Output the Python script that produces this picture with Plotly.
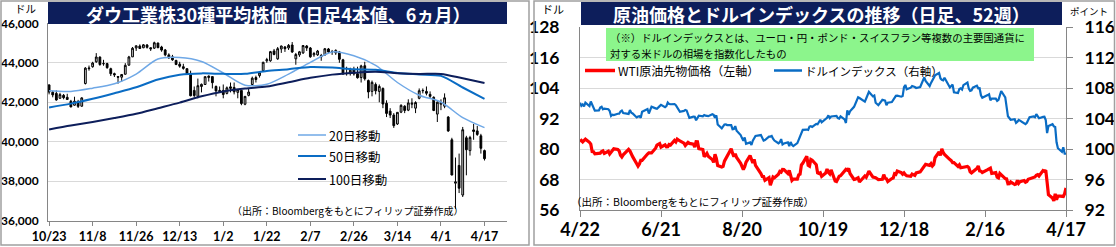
import plotly.graph_objects as go

W, H = 1116, 247
def px(x): return x / W
def py(y): return 1 - y / H

# ---------------- Left panel data (Dow Jones daily OHLC) ----------------
DOW_DATES = ["10/23","10/24","10/25","10/28","10/29","10/30","10/31","11/1","11/4","11/5","11/6","11/7","11/8",
    "11/11","11/12","11/13","11/14","11/15","11/18","11/19","11/20","11/21","11/22","11/25","11/26","11/27","11/29",
    "12/2","12/3","12/4","12/5","12/6","12/9","12/10","12/11","12/12","12/13","12/16","12/17","12/18","12/19","12/20",
    "12/23","12/24","12/26","12/27","12/30","12/31","1/2","1/3","1/6","1/7","1/8","1/10","1/13","1/14","1/15","1/16",
    "1/17","1/21","1/22","1/23","1/24","1/27","1/28","1/29","1/30","1/31","2/3","2/4","2/5","2/6","2/7","2/10","2/11",
    "2/12","2/13","2/14","2/18","2/19","2/20","2/21","2/24","2/25","2/26","2/27","2/28","3/3","3/4","3/5","3/6","3/7",
    "3/10","3/11","3/12","3/13","3/14","3/17","3/18","3/19","3/20","3/21","3/24","3/25","3/26","3/27","3/28","3/31",
    "4/1","4/2","4/3","4/4","4/7","4/8","4/9","4/10","4/11","4/14","4/15","4/16","4/17"]
DOW_OPEN = [42880,42510,42450,42200,42350,42250,42050,41850,42040,41800,42950,43700,43800,
    44050,44290,43950,43960,43700,43450,43300,43270,43420,43880,44300,44750,44850,44760,
    44900,44760,44740,45000,44800,44650,44400,44300,44120,43930,43800,43700,43450,42600,42300,
    42800,42900,43250,43300,42800,42600,42600,42450,42780,42750,42500,42600,41900,42350,42900,43250,
    43350,43600,44100,44100,44600,44200,44700,44800,44750,44900,44200,44400,44500,44850,44750,44400,44400,
    44300,44400,44700,44550,44500,44550,44150,43450,43450,43650,43450,43250,43850,43100,42550,42900,42550,
    42700,41950,41550,41350,40900,41500,41800,41600,41900,41700,42200,42600,42550,42400,42250,41400,
    41900,41800,41250,40100,37900,38800,37300,40200,39550,40600,40550,40300,39550]
DOW_HIGH = [42900,42580,42600,42480,42420,42430,42120,42280,42120,42250,43780,43860,44050,
    44490,44320,44150,44000,43750,43500,43330,43420,43980,44350,44800,44880,44930,44950,
    44950,44780,45070,45020,44860,44700,44480,44400,44150,44050,43950,43720,43600,42800,43200,
    42950,43300,43360,43300,42850,42800,42900,42800,43000,43000,42650,42600,42320,42700,43300,43350,
    43550,44050,44250,44600,44700,44800,44870,44850,44950,45050,44500,44600,44900,44900,44800,44550,44650,
    44450,44750,44750,44650,44680,44600,44200,43800,43750,43800,43800,43900,44050,43150,43100,43000,42900,
    42750,42100,41700,41450,41500,41900,41850,42150,42200,42050,42700,42700,42800,42550,42300,42050,
    42150,42450,41300,40200,39200,39400,40750,40300,40300,40900,40800,40400,39600]
DOW_LOW = [42400,42250,42080,42180,42150,42120,41750,41830,41710,41780,42900,43600,43750,
    44000,43850,43850,43700,43330,43280,42940,43040,43400,43850,44290,44600,44700,44740,
    44720,44600,44700,44740,44560,44330,44200,44100,43880,43750,43650,43380,42300,42250,42200,
    42500,42880,43050,42700,42300,42480,42200,42400,42500,42400,42200,41850,41850,42300,42850,43000,
    43250,43550,44000,44050,44380,44150,44500,44550,44650,44500,43900,44300,44450,44600,44250,44300,44350,
    44100,44350,44500,44400,44400,44000,43400,43350,43350,43350,43200,43000,43100,42200,42300,42400,42000,
    41700,41250,41200,40700,40850,41450,41450,41550,41700,41450,42150,42450,42350,42200,41550,41000,
    41600,41700,40500,38300,36600,37400,37200,38300,39300,40100,40300,39400,39050]
DOW_CLOSE = [42514,42374,42114,42387,42233,42141,41763,42052,41794,42222,43729,43729,43988,
    44293,43910,43958,43751,43445,43390,43269,43408,43870,44296,44736,44860,44722,44911,
    44782,44705,45014,44765,44643,44401,44248,44149,43914,43828,43717,43450,42327,42342,42840,
    42907,43297,43325,42992,42574,42544,42392,42732,42706,42528,42635,41938,42297,42518,43221,43153,
    43488,44025,44157,44565,44424,44714,44850,44713,44882,44545,44422,44556,44873,44747,44303,44470,44594,
    44368,44711,44546,44556,44628,44177,43428,43461,43621,43433,43240,43841,43191,42521,43007,42579,42802,
    41912,41433,41350,40814,41489,41842,41582,41965,41953,41985,42583,42588,42455,42300,41584,42002,
    41990,42226,40546,38315,37966,37646,40609,39594,40213,40525,40368,39669,39142]

MA_DATES = ["10/23","10/31","11/8","11/18","11/26","12/5","12/13","12/23","1/2","1/13","1/22",
            "1/30","2/7","2/18","2/26","3/6","3/14","3/24","4/1","4/9","4/17"]
MA20 = [42580,42550,42715,42936,43430,44190,44268,44063,43483,42864,42913,
        43424,44020,44551,44352,43871,43001,42357,42011,41222,40715]
MA50 = [41740,41930,42180,42460,42760,43156,43396,43463,43439,43445,43582,
        43672,43788,43758,43669,43645,43482,43409,43336,42747,42177]
MA100 = [40620,40820,41000,41200,41420,41700,41980,42300,42550,42700,42800,
         43015,43237,43400,43497,43550,43473,43431,43436,43212,42974]
DOW_TICKS = ["10/23","11/8","11/26","12/13","1/2","1/22","2/7","2/26","3/14","4/1","4/17"]
MA_NAMES = ["20日移動", "50日移動", "100日移動"]

# ---------------- Right panel data (WTI / Dollar index) ----------------
R_DATES = ["2024-04-22","2024-04-23","2024-04-24","2024-04-25","2024-04-26","2024-04-29","2024-04-30",
 "2024-05-01","2024-05-02","2024-05-03","2024-05-06","2024-05-07","2024-05-08","2024-05-09","2024-05-10",
 "2024-05-13","2024-05-14","2024-05-15","2024-05-16","2024-05-17","2024-05-20","2024-05-21","2024-05-22",
 "2024-05-23","2024-05-24","2024-05-28","2024-05-29","2024-05-30","2024-05-31",
 "2024-06-03","2024-06-04","2024-06-05","2024-06-06","2024-06-07","2024-06-10","2024-06-11","2024-06-12",
 "2024-06-13","2024-06-14","2024-06-17","2024-06-18","2024-06-20","2024-06-21","2024-06-24","2024-06-25",
 "2024-06-26","2024-06-27","2024-06-28",
 "2024-07-01","2024-07-02","2024-07-03","2024-07-05","2024-07-08","2024-07-09","2024-07-10","2024-07-11",
 "2024-07-12","2024-07-15","2024-07-16","2024-07-17","2024-07-18","2024-07-19","2024-07-22","2024-07-23",
 "2024-07-24","2024-07-25","2024-07-26","2024-07-29","2024-07-30","2024-07-31",
 "2024-08-01","2024-08-02","2024-08-05","2024-08-06","2024-08-07","2024-08-08","2024-08-09","2024-08-12",
 "2024-08-13","2024-08-14","2024-08-15","2024-08-16","2024-08-19","2024-08-20","2024-08-21","2024-08-22",
 "2024-08-23","2024-08-26","2024-08-27","2024-08-28","2024-08-29","2024-08-30",
 "2024-09-03","2024-09-04","2024-09-05","2024-09-06","2024-09-09","2024-09-10","2024-09-11","2024-09-12",
 "2024-09-13","2024-09-16","2024-09-17","2024-09-18","2024-09-19","2024-09-20","2024-09-23","2024-09-24",
 "2024-09-25","2024-09-26","2024-09-27","2024-09-30",
 "2024-10-01","2024-10-02","2024-10-03","2024-10-04","2024-10-07","2024-10-08","2024-10-09","2024-10-10",
 "2024-10-11","2024-10-14","2024-10-15","2024-10-16","2024-10-17","2024-10-18","2024-10-21","2024-10-22",
 "2024-10-23","2024-10-24","2024-10-25","2024-10-28","2024-10-29","2024-10-30","2024-10-31",
 "2024-11-01","2024-11-04","2024-11-05","2024-11-06","2024-11-07","2024-11-08","2024-11-11","2024-11-12",
 "2024-11-13","2024-11-14","2024-11-15","2024-11-18","2024-11-19","2024-11-20","2024-11-21","2024-11-22",
 "2024-11-25","2024-11-26","2024-11-27","2024-11-29",
 "2024-12-02","2024-12-03","2024-12-04","2024-12-05","2024-12-06","2024-12-09","2024-12-10","2024-12-11",
 "2024-12-12","2024-12-13","2024-12-16","2024-12-17","2024-12-18","2024-12-19","2024-12-20","2024-12-23",
 "2024-12-24","2024-12-26","2024-12-27","2024-12-30","2024-12-31",
 "2025-01-02","2025-01-03","2025-01-06","2025-01-07","2025-01-08","2025-01-09","2025-01-10","2025-01-13",
 "2025-01-14","2025-01-15","2025-01-16","2025-01-17","2025-01-21","2025-01-22","2025-01-23","2025-01-24",
 "2025-01-27","2025-01-28","2025-01-29","2025-01-30","2025-01-31",
 "2025-02-03","2025-02-04","2025-02-05","2025-02-06","2025-02-07","2025-02-10","2025-02-11","2025-02-12",
 "2025-02-13","2025-02-14","2025-02-18","2025-02-19","2025-02-20","2025-02-21","2025-02-24","2025-02-25",
 "2025-02-26","2025-02-27","2025-02-28",
 "2025-03-03","2025-03-04","2025-03-05","2025-03-06","2025-03-07","2025-03-10","2025-03-11","2025-03-12",
 "2025-03-13","2025-03-14","2025-03-17","2025-03-18","2025-03-19","2025-03-20","2025-03-21","2025-03-24",
 "2025-03-25","2025-03-26","2025-03-27","2025-03-28","2025-03-31",
 "2025-04-01","2025-04-02","2025-04-03","2025-04-04","2025-04-07","2025-04-08","2025-04-09","2025-04-10",
 "2025-04-11","2025-04-14","2025-04-15","2025-04-16","2025-04-17"]
WTI = [82.90,83.36,82.81,83.57,83.85,82.63,81.93,
 79.00,78.95,78.11,78.48,78.38,78.99,79.26,78.26,
 79.12,78.02,78.63,79.23,80.06,79.80,79.26,77.57,
 76.87,77.72,79.83,79.23,77.91,76.99,
 74.22,73.25,74.07,75.55,75.53,77.74,78.00,78.50,
 78.62,78.45,80.33,81.57,82.17,80.73,81.63,80.83,
 80.90,81.74,81.54,
 83.38,82.81,83.88,83.16,82.33,81.41,82.10,82.62,
 82.21,81.91,80.76,82.85,82.82,80.13,79.78,76.96,
 77.59,78.28,77.16,75.81,74.73,77.91,
 76.31,73.52,72.94,73.20,75.23,76.19,76.84,80.06,
 78.35,76.98,78.16,76.65,74.37,73.17,71.93,73.01,
 74.83,77.42,75.53,74.52,75.91,73.55,
 70.34,69.20,69.15,67.67,68.71,65.75,67.31,68.97,
 68.65,70.09,71.19,70.91,71.95,71.92,70.37,71.56,
 69.69,67.67,68.18,68.17,
 69.83,70.10,73.71,74.38,77.14,73.57,73.24,75.85,
 75.56,73.83,70.58,70.39,70.67,69.22,70.56,72.09,
 70.77,70.19,71.78,67.38,67.21,68.61,69.26,
 69.49,71.47,71.99,71.69,72.36,70.38,68.04,68.12,
 68.43,68.70,67.02,69.16,69.39,68.87,70.10,71.24,
 68.94,68.77,68.72,68.00,
 68.10,69.94,68.54,68.30,67.20,68.37,68.59,70.29,
 70.02,71.29,70.71,70.08,70.58,69.91,69.46,69.24,
 70.10,69.62,70.60,70.99,71.72,
 73.13,73.96,73.56,74.25,73.32,73.92,76.57,78.82,
 77.50,80.04,78.68,77.88,75.83,75.44,74.62,74.66,
 73.17,73.77,72.62,72.73,72.53,
 73.16,72.70,71.03,70.61,71.00,72.32,73.32,71.37,
 71.29,70.74,71.85,72.25,72.48,70.40,70.70,68.93,
 68.62,70.35,69.76,
 68.37,68.26,66.31,66.36,67.04,66.03,66.25,67.68,
 66.55,67.18,67.58,66.90,67.16,68.07,68.28,69.11,
 69.00,69.65,69.92,69.36,71.48,
 71.20,71.71,66.95,61.99,60.70,59.58,62.35,60.07,
 61.50,61.53,61.33,62.47,64.68]
DXY = [106.08,105.66,105.85,105.59,106.09,105.62,106.22,
 105.75,105.30,105.03,105.05,105.45,105.55,105.20,105.30,
 105.22,104.98,104.33,104.50,104.45,104.62,104.63,104.93,
 105.05,104.72,104.60,105.10,104.75,104.67,
 104.14,104.26,104.29,104.10,104.89,105.16,105.25,104.66,
 105.22,105.55,105.33,105.27,105.62,105.80,105.48,105.63,
 106.09,105.91,105.87,
 105.90,105.75,105.39,104.89,105.00,105.12,105.05,104.45,
 104.08,104.25,104.23,103.77,104.19,104.38,104.29,104.46,
 104.37,104.33,104.31,104.56,104.47,104.10,
 104.41,103.21,102.71,102.97,103.21,103.22,103.14,103.14,
 102.60,102.62,103.00,102.40,101.82,101.43,101.09,101.50,
 100.68,100.86,100.53,101.10,101.33,101.70,
 101.83,101.35,101.10,101.18,101.62,101.63,101.71,101.36,
 101.11,100.75,100.89,101.30,100.60,100.72,100.87,100.39,
 100.91,100.55,100.38,100.78,
 101.19,101.68,101.99,102.52,102.55,102.50,102.93,102.99,
 102.89,103.29,103.24,103.58,103.83,103.49,104.02,104.09,
 104.41,104.05,104.26,104.30,104.33,104.06,103.99,
 104.28,103.89,103.41,105.08,104.49,104.95,105.53,106.00,
 106.48,106.79,106.69,106.28,106.21,106.62,107.03,107.49,
 106.90,107.01,106.07,105.74,
 106.46,106.37,106.35,105.73,106.06,106.15,106.40,106.70,
 106.97,107.00,106.86,106.94,108.11,108.40,107.83,108.04,
 108.26,108.13,108.00,108.13,108.49,
 109.39,108.92,108.26,108.67,109.04,109.19,109.65,109.96,
 109.26,109.08,109.00,109.35,108.07,108.26,108.45,107.44,
 107.34,107.87,107.96,107.80,108.37,
 108.72,107.91,107.63,107.69,108.04,108.31,107.96,107.97,
 107.04,106.71,107.07,107.18,106.38,106.60,106.60,106.31,
 106.45,107.25,107.61,
 106.76,105.59,104.29,104.07,103.84,103.90,103.42,103.59,
 103.81,103.72,103.37,103.26,103.44,103.85,104.16,104.26,
 104.17,104.56,104.33,104.04,104.21,
 104.23,103.79,102.08,103.02,103.26,102.96,102.89,100.87,
 100.10,99.64,100.22,99.38,99.38]
R_TICK_DATES = ["2024-04-22","2024-06-21","2024-08-20","2024-10-19","2024-12-18","2025-02-16","2025-04-17"]
R_TICK_TEXT = ["4/22","6/21","8/20","10/19","12/18","2/16","4/17"]
R_NAMES = ["WTI原油先物価格（左軸）", "ドルインデックス（右軸）"]

NAVY = "#0d1e5b"
GRID = "#d9d9d9"
AXC = "#868686"
JP = "Noto Sans CJK JP"
NUM = "Lato"

xi = list(range(len(DOW_DATES)))
ma_x = [DOW_DATES.index(d) for d in MA_DATES]

fig = go.Figure()
fig.add_trace(go.Candlestick(
    x=xi, open=DOW_OPEN, high=DOW_HIGH, low=DOW_LOW, close=DOW_CLOSE,
    increasing=dict(fillcolor="#cfcfcf", line=dict(color="#000000", width=1)),
    decreasing=dict(fillcolor="#000000", line=dict(color="#000000", width=1)),
    whiskerwidth=0, showlegend=False, xaxis="x", yaxis="y", hoverinfo="skip"))
ma_colors = ["#6fa8e6", "#0a6cc4", "#0d1e5b"]
ma_widths = [1.5, 2, 2]
for vals, col, wd, nm in zip([MA20, MA50, MA100], ma_colors, ma_widths, MA_NAMES):
    fig.add_trace(go.Scatter(x=ma_x, y=vals, mode="lines", name=nm,
                             line=dict(color=col, width=wd, shape="spline", smoothing=0.8),
                             showlegend=False, xaxis="x", yaxis="y"))

fig.add_trace(go.Scatter(x=R_DATES, y=WTI, mode="lines", name=R_NAMES[0],
                         line=dict(color="#ff0000", width=3.2), showlegend=False,
                         xaxis="x2", yaxis="y3"))
fig.add_trace(go.Scatter(x=R_DATES, y=DXY, mode="lines", name=R_NAMES[1],
                         line=dict(color="#0a6cc4", width=2.2), showlegend=False,
                         xaxis="x2", yaxis="y4"))

shapes = []
annos = []
# panel frames
shapes.append(dict(type="rect", xref="paper", yref="paper", x0=px(1), x1=px(529), y0=py(245), y1=py(1),
                   line=dict(color="#a0a0a0", width=1.5), layer="above"))
shapes.append(dict(type="rect", xref="paper", yref="paper", x0=px(534), x1=px(1114.5), y0=py(245), y1=py(1),
                   line=dict(color="#a0a0a0", width=1.5), layer="above"))
# title bars
shapes.append(dict(type="rect", xref="paper", yref="paper", x0=px(48), x1=px(507), y0=py(24), y1=py(2),
                   fillcolor=NAVY, line=dict(width=0), layer="above"))
shapes.append(dict(type="rect", xref="paper", yref="paper", x0=px(581), x1=px(1062), y0=py(25), y1=py(2),
                   fillcolor=NAVY, line=dict(width=0), layer="above"))
annos.append(dict(xref="paper", yref="paper", x=px(277.5), y=py(13.5), text="ダウ工業株30種平均株価（日足4本値、6ヵ月）",
                  showarrow=False, font=dict(family=JP, size=18, color="white", weight="bold"), xanchor="center", yanchor="middle"))
annos.append(dict(xref="paper", yref="paper", x=px(821.5), y=py(14), text="原油価格とドルインデックスの推移（日足、52週）",
                  showarrow=False, font=dict(family=JP, size=18, color="white", weight="bold"), xanchor="center", yanchor="middle"))
# unit labels
annos.append(dict(xref="paper", yref="paper", x=px(25), y=py(8.5), text="ドル", showarrow=False,
                  font=dict(family=JP, size=10.5, color="black"), xanchor="center", yanchor="middle"))
annos.append(dict(xref="paper", yref="paper", x=px(553), y=py(9), text="ドル", showarrow=False,
                  font=dict(family=JP, size=11, color="black"), xanchor="center", yanchor="middle"))
annos.append(dict(xref="paper", yref="paper", x=px(1089), y=py(11), text="ポイント", showarrow=False,
                  font=dict(family=JP, size=9.5, color="black"), xanchor="center", yanchor="middle"))
# left legend
leg_y = [135, 156, 179]
for nm, col, wd, yy in zip(MA_NAMES, ma_colors, ma_widths, leg_y):
    shapes.append(dict(type="line", xref="paper", yref="paper", x0=px(298), x1=px(326), y0=py(yy), y1=py(yy),
                       line=dict(color=col, width=wd)))
    annos.append(dict(xref="paper", yref="paper", x=px(327), y=py(yy), text=nm, showarrow=False,
                      font=dict(family=JP, size=12.5, color="black"), xanchor="left", yanchor="middle"))
annos.append(dict(xref="paper", yref="paper", x=px(348), y=py(210), text="（出所：Bloombergをもとにフィリップ証券作成）",
                  showarrow=False, font=dict(family=JP, size=10, color="black"), xanchor="center", yanchor="middle"))
# right green note box
shapes.append(dict(type="rect", xref="paper", yref="paper", x0=px(606), x1=px(1034), y0=py(61), y1=py(28),
                   fillcolor="#8cf58c", line=dict(width=0), layer="above"))
annos.append(dict(xref="paper", yref="paper", x=px(608), y=py(37.5),
                  text="（※）ドルインデックスとは、ユーロ・円・ポンド・スイスフラン等複数の主要国通貨に",
                  showarrow=False, font=dict(family=JP, size=10.4, color="black"), xanchor="left", yanchor="middle"))
annos.append(dict(xref="paper", yref="paper", x=px(608), y=py(53),
                  text="対する米ドルの相場を指数化したもの",
                  showarrow=False, font=dict(family=JP, size=10.4, color="black"), xanchor="left", yanchor="middle"))
# right legend
shapes.append(dict(type="line", xref="paper", yref="paper", x0=px(585), x1=px(615), y0=py(70.5), y1=py(70.5),
                   line=dict(color="#ff0000", width=3.5)))
annos.append(dict(xref="paper", yref="paper", x=px(616), y=py(70.5), text=R_NAMES[0], showarrow=False,
                  font=dict(family=JP, size=12, color="black"), xanchor="left", yanchor="middle"))
shapes.append(dict(type="line", xref="paper", yref="paper", x0=px(774), x1=px(802), y0=py(70.5), y1=py(70.5),
                   line=dict(color="#0a6cc4", width=2.5)))
annos.append(dict(xref="paper", yref="paper", x=px(803), y=py(70.5), text=R_NAMES[1], showarrow=False,
                  font=dict(family=JP, size=11.5, color="black"), xanchor="left", yanchor="middle"))
annos.append(dict(xref="paper", yref="paper", x=px(692), y=py(201), text="（出所：Bloombergをもとにフィリップ証券作成）",
                  showarrow=False, font=dict(family=JP, size=10.5, color="black"), xanchor="center", yanchor="middle"))

tickf_ly = dict(family=NUM, size=12, color="black", weight="bold")
tickf_lx = dict(family=NUM, size=12.5, color="black", weight="bold")
tickf_r = dict(family=NUM, size=17.5, color="black", weight="bold")

fig.update_layout(
    width=W, height=H, margin=dict(l=0, r=0, t=0, b=0, autoexpand=False),
    paper_bgcolor="white", plot_bgcolor="white", showlegend=False,
    shapes=shapes, annotations=annos,
    xaxis=dict(domain=[px(48), px(507)], range=[-0.3, 126.2], tickvals=[DOW_DATES.index(t) for t in DOW_TICKS],
               ticktext=DOW_TICKS, showgrid=False, zeroline=False, showline=True, linecolor=AXC, linewidth=1,
               ticks="outside", ticklen=4, tickcolor=AXC, tickfont=tickf_lx, rangeslider=dict(visible=False),
               ticklabelstandoff=0, anchor="y", automargin=False),
    yaxis=dict(domain=[py(220.7), py(23.3)], range=[36000, 46000], dtick=2000, tick0=36000, tickformat=",",
               showgrid=True, gridcolor=GRID, zeroline=False, showline=True, linecolor=AXC, linewidth=1,
               ticks="", tickfont=tickf_ly, ticklabelstandoff=6, anchor="x", automargin=False),
    xaxis2=dict(domain=[px(580), px(1066)], type="date", range=["2024-04-22", "2025-04-17"],
                tickvals=R_TICK_DATES, ticktext=R_TICK_TEXT, showgrid=False, zeroline=False,
                showline=True, linecolor=AXC, linewidth=1, ticks="outside", ticklen=6, tickcolor=AXC,
                tickfont=dict(family=NUM, size=18, color="black", weight="bold"), ticklabelstandoff=-3,
                anchor="y3", automargin=False),
    yaxis3=dict(domain=[py(210), py(27)], range=[56, 128], dtick=12, tick0=56, showgrid=True, gridcolor=GRID,
                zeroline=False, showline=True, linecolor=AXC, linewidth=1, ticks="", tickfont=tickf_r,
                ticklabelstandoff=16, anchor="x2", automargin=False),
    yaxis4=dict(domain=[py(210), py(27)], range=[92, 116], dtick=4, tick0=92, overlaying="y3", side="right",
                showgrid=False, zeroline=False, showline=True, linecolor=AXC, linewidth=1, ticks="outside",
                ticklen=6, tickcolor=AXC, tickfont=tickf_r, ticklabelstandoff=8, anchor="x2", automargin=False),
)

fig.write_html("out.html")
